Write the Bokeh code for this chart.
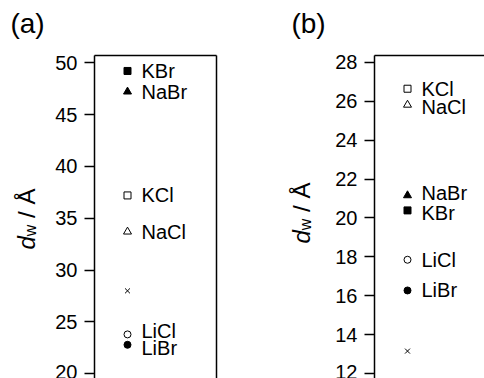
import math
from bokeh.plotting import figure
from bokeh.layouts import row
from bokeh.models import LinearAxis, FixedTicker, Range1d, ColumnDataSource
from bokeh.core.properties import value
from bokeh.embed import file_html
from bokeh.resources import INLINE

FONT = "Liberation Sans"

# ---- data ----
salts_a = ["KBr", "NaBr", "KCl", "NaCl", "", "LiCl", "LiBr"]
dw_a = [49.2, 47.2, 37.2, 33.7, 28.0, 23.8, 22.8]
ticks_a = [20, 25, 30, 35, 40, 45, 50]

salts_b = ["KCl", "NaCl", "NaBr", "KBr", "LiCl", "LiBr", ""]
dw_b = [26.65, 25.82, 21.16, 20.39, 17.85, 16.27, 13.15]
ticks_b = [12, 14, 16, 18, 20, 22, 24, 26, 28]

panel_tags = ["(a)", "(b)"]

# marker style per salt
MARK = {"KBr": ("square", "black"), "NaBr": ("triangle", "black"),
        "KCl": ("square", "white"), "NaCl": ("triangle", "white"),
        "LiCl": ("circle", "white"), "LiBr": ("circle", "black"),
        "": ("x", "black")}
SIZE = {"square": 7, "triangle": 8, "circle": 7, "x": 7}
LABEL_DY = {"a": {"LiCl": -3, "LiBr": 3}, "b": {"NaBr": -2, "KBr": 3, "NaCl": 2}}

FIG_H = 378
TOP = 55
MARK_X = 33


def label_strip(width, tag, tag_cx, x0, y0):
    # frame spans y = TOP..FIG_H like the data panels; y range in pixels from page top
    p = figure(width=width, height=FIG_H, output_backend="svg", toolbar_location=None,
               x_range=Range1d(0, width), y_range=Range1d(FIG_H, TOP),
               x_axis_type=None, y_axis_type=None,
               min_border_left=0, min_border_right=0, min_border_top=TOP,
               min_border_bottom=0, outline_line_color=None,
               background_fill_color="white", border_fill_color="white")
    p.grid.visible = False
    # panel tag carried by an axis label in the top border
    tag_axis = LinearAxis(ticker=FixedTicker(ticks=[tag_cx]),
                          major_label_overrides={tag_cx: tag},
                          axis_line_color=None, major_tick_line_color=None,
                          minor_tick_line_color=None, major_tick_out=0, major_tick_in=0,
                          major_label_standoff=17, major_label_text_font=FONT,
                          major_label_text_font_size="28px",
                          major_label_text_color="black")
    p.add_layout(tag_axis, "above")

    a = math.pi / 2
    fs = 24

    def put(x, y, txt, size, **kw):
        p.text(x=[x], y=[y], text=[txt], text_font=value(FONT), text_font_size=size,
               text_color="black", text_baseline="alphabetic", text_align="left",
               angle=a, **kw)

    put(x0, y0, "d", f"{fs}px", text_font_style="italic")
    y1 = y0 - 0.556 * fs
    sub = int(fs * 0.68)
    put(x0 + 4, y1, "w", f"{sub}px")
    y2 = y1 - 0.722 * sub - 0.278 * fs
    put(x0, y2, "/ Å", f"{fs}px")
    return p


def data_panel(tag, salts, vals, ticks, yr, width, bl, br, right_line):
    fw = width - bl - br
    p = figure(width=width, height=FIG_H, output_backend="svg", toolbar_location=None,
               x_range=Range1d(-MARK_X, fw - MARK_X), y_range=Range1d(*yr),
               min_border_left=bl, min_border_right=br, min_border_top=TOP,
               min_border_bottom=0, outline_line_color=None,
               background_fill_color="white", border_fill_color="white")
    p.xaxis.visible = False
    p.grid.visible = False
    ax = p.yaxis[0]
    ax.ticker = FixedTicker(ticks=ticks)
    ax.major_tick_out = 10
    ax.major_tick_in = 0
    ax.minor_tick_line_color = None
    ax.axis_line_width = 1.5
    ax.major_tick_line_width = 1.5
    ax.major_label_standoff = 7
    ax.major_label_text_font = FONT
    ax.major_label_text_font_size = "20px"
    ax.major_label_text_color = "black"

    def border_axis():
        return LinearAxis(ticker=FixedTicker(ticks=[]), axis_line_width=1.5,
                          major_label_text_font_size="0px", minor_tick_line_color=None,
                          major_tick_line_color=None, major_tick_out=0, major_tick_in=0,
                          major_label_standoff=0)
    p.add_layout(border_axis(), "above")
    if right_line:
        p.add_layout(border_axis(), "right")

    markers = [MARK[s][0] for s in salts]
    fills = [MARK[s][1] for s in salts]
    sizes = [SIZE[m] for m in markers]
    dys = [LABEL_DY[tag].get(s, 0) for s in salts]
    src = ColumnDataSource(dict(x=[0] * len(vals), y=vals, m=markers, f=fills,
                                s=sizes, t=salts, dy=dys))
    p.scatter("x", "y", source=src, marker="m", size="s", fill_color="f",
              line_color="black", line_width=1)
    p.text("x", "y", text="t", source=src, x_offset=14, y_offset="dy",
           text_baseline="middle", text_font=value(FONT), text_font_size="20px",
           text_color="black")
    return p


LAB_A, PA_W = 48, 192          # 0..48 label strip, 48..240 panel (a)
LAB_B, PB_W = 90, 154          # 240..330 label strip, 330..484 panel (b)

lab_a = label_strip(LAB_A, panel_tags[0], 27, 26, 249)
pa = data_panel("a", salts_a, dw_a, ticks_a, (19.55, 50.69), PA_W, 94 - LAB_A, 24, True)

lab_b = label_strip(LAB_B, panel_tags[1], 308 - 240, 301 - 240, 243)
pb = data_panel("b", salts_b, dw_b, ticks_b, (11.74, 28.36), PB_W, 374 - 240 - LAB_B, 0, False)

layout = row(lab_a, pa, lab_b, pb)
open("out.html", "w").write(file_html(layout, INLINE))
